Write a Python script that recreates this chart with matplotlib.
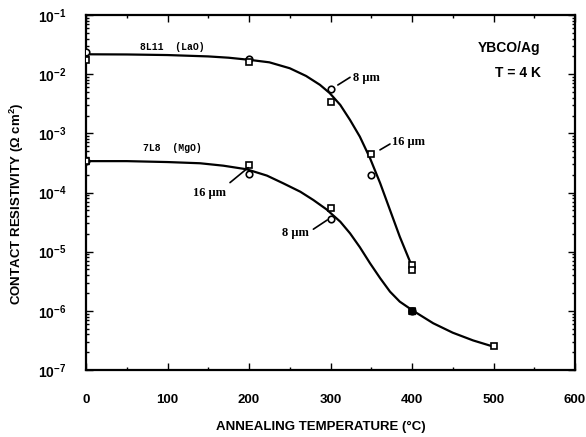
import matplotlib
matplotlib.use("Agg")
import matplotlib.pyplot as plt
from matplotlib.ticker import FixedLocator, LogLocator, NullFormatter, FixedFormatter

plt.rcParams['mathtext.fontset'] = 'custom'
plt.rcParams['mathtext.rm'] = 'Liberation Sans:bold'
plt.rcParams['mathtext.bf'] = 'Liberation Sans:bold'
plt.rcParams['mathtext.it'] = 'Liberation Sans:bold'

# ---- data ----
# 8L11 (LaO) sample
lao_circ_x = [0, 200, 300, 350]
lao_circ_y = [0.024, 0.018, 5.6e-3, 2.0e-4]
lao_sq_x = [0, 200, 300, 350, 400, 400]
lao_sq_y = [0.0174, 0.016, 3.4e-3, 4.4e-4, 5.96e-6, 4.9e-6]
lao_curve_x = [0, 50, 100, 150, 175, 200, 225, 250, 270, 287, 299, 312, 324, 336,
               348.5, 361, 373, 385, 400]
lao_curve_y = [0.02168, 0.02153, 0.02104, 0.01995, 0.01897, 0.01750, 0.01585, 0.01259,
               0.00933, 0.00661, 0.00479, 0.00302, 0.00168, 8.79e-4, 3.80e-4, 1.43e-4,
               5.06e-5, 1.79e-5, 5.62e-6]

# 7L8 (MgO) sample
mgo_circ_x = [0, 200, 300, 400]
mgo_circ_y = [3.4e-4, 2.04e-4, 3.6e-5, 1.0e-6]
mgo_sq_x = [0, 200, 300, 400, 500]
mgo_sq_y = [3.4e-4, 2.9e-4, 5.4e-5, 1.0e-6, 2.5e-7]
mgo_curve_x = [0, 50, 100, 140, 168.5, 197, 222, 242, 263, 279, 295, 312, 324, 336,
               348.5, 361, 373, 385, 401, 426, 450, 475, 500]
mgo_curve_y = [3.39e-4, 3.39e-4, 3.27e-4, 3.12e-4, 2.84e-4, 2.47e-4, 1.93e-4, 1.43e-4,
               1.03e-4, 7.46e-5, 5.20e-5, 3.21e-5, 2.04e-5, 1.19e-5, 6.37e-6, 3.55e-6,
               2.11e-6, 1.43e-6, 1.01e-6, 6.17e-7, 4.27e-7, 3.16e-7, 2.48e-7]

x_ticks = [0, 100, 200, 300, 400, 500, 600]
y_ticks = [1e-7, 1e-6, 1e-5, 1e-4, 1e-3, 1e-2, 1e-1]
y_tick_labels = [r'$10^{-7}$', r'$10^{-6}$', r'$10^{-5}$', r'$10^{-4}$',
                 r'$10^{-3}$', r'$10^{-2}$', r'$10^{-1}$']

fig = plt.figure(figsize=(5.86, 4.37), dpi=100)
ax = fig.add_axes([86/586, 1-370/437, (575-86)/586, (370-15)/437])

lw = 1.6
ax.plot(lao_curve_x, lao_curve_y, color='black', lw=lw, solid_joinstyle='round')
ax.plot(mgo_curve_x, mgo_curve_y, color='black', lw=lw, solid_joinstyle='round')

mk = dict(linestyle='none', markerfacecolor='white', markeredgecolor='black',
          markeredgewidth=1.2, markersize=4.7, zorder=3)
ax.plot(lao_circ_x, lao_circ_y, marker='o', **mk)
ax.plot(lao_sq_x, lao_sq_y, marker='s', **mk)
ax.plot(mgo_circ_x, mgo_circ_y, marker='o', **mk)
ax.plot(mgo_sq_x, mgo_sq_y, marker='s', **mk)
# overlapping pair at 400 C appears filled
ax.plot([mgo_sq_x[3]], [mgo_sq_y[3]], marker='s', linestyle='none', color='black',
        markersize=4.7, zorder=4)

ax.set_yscale('log')
ax.set_xlim(0, 600)
ax.set_ylim(1e-7, 1e-1)

ax.xaxis.set_major_locator(FixedLocator(x_ticks))
ax.xaxis.set_minor_locator(FixedLocator([50, 150, 250, 350, 450, 550]))
ax.yaxis.set_major_locator(FixedLocator(y_ticks))
ax.yaxis.set_major_formatter(FixedFormatter(y_tick_labels))
ax.yaxis.set_minor_locator(LogLocator(base=10, subs=range(2, 10), numticks=20))
ax.yaxis.set_minor_formatter(NullFormatter())

ax.tick_params(which='both', direction='in', top=True, right=True, width=1.0)
ax.tick_params(which='major', length=5)
ax.tick_params(which='minor', length=2.5)
ax.tick_params(axis='x', which='major', pad=17, labelsize=9.5)
ax.tick_params(axis='y', which='major', pad=14, labelsize=10)
for lab in ax.get_xticklabels():
    lab.set_fontfamily('Liberation Sans')
    lab.set_fontweight('bold')
for sp in ax.spines.values():
    sp.set_linewidth(1.6)

ax.set_xlabel('ANNEALING TEMPERATURE (°C)', fontfamily='Liberation Sans',
              fontweight='bold', fontsize=9.5, va='center', ha='center')
ax.set_ylabel('CONTACT RESISTIVITY (Ω cm$^{2}$)', fontfamily='Liberation Sans',
              fontweight='bold', fontsize=9.5, va='center', ha='center')
ax.xaxis.set_label_coords((321-86)/489, -(427-370)/355)
ax.yaxis.set_label_coords(-(86-17)/489, (370-204)/355)

mono = dict(fontfamily='Liberation Mono', fontweight='bold', fontsize=7)
ax.text(66, 0.0291, '8L11  (LaO)', ha='left', va='center', **mono)
ax.text(70, 5.7e-4, '7L8  (MgO)', ha='left', va='center', **mono)

serif = dict(fontfamily='Liberation Serif', fontweight='bold', fontsize=9)
line = dict(arrowstyle='-', lw=1.2, color='black', shrinkA=0, shrinkB=0)
ax.text(327, 8.7e-3, '8 μm', ha='left', va='center', **serif)
ax.annotate('', xy=(309, 6.56e-3), xytext=(324, 8.85e-3), arrowprops=line)
ax.text(376, 7.2e-4, '16 μm', ha='left', va='center', **serif)
ax.annotate('', xy=(360.7, 5.25e-4), xytext=(373, 6.6e-4), arrowprops=line)
ax.text(131.7, 9.7e-5, '16 μm', ha='left', va='center', **serif)
ax.annotate('', xy=(199, 2.63e-4), xytext=(176.7, 1.47e-4), arrowprops=line)
ax.text(241, 2.04e-5, '8 μm', ha='left', va='center', **serif)
ax.annotate('', xy=(296, 3.43e-5), xytext=(279, 2.4e-5), arrowprops=line)

sans = dict(fontfamily='Liberation Sans', fontweight='bold', fontsize=10)
ax.text(558, 0.0277, 'YBCO/Ag', ha='right', va='center', **sans)
ax.text(558, 0.0105, 'T = 4 K', ha='right', va='center', **sans)

fig.savefig('out.png', dpi=100)
